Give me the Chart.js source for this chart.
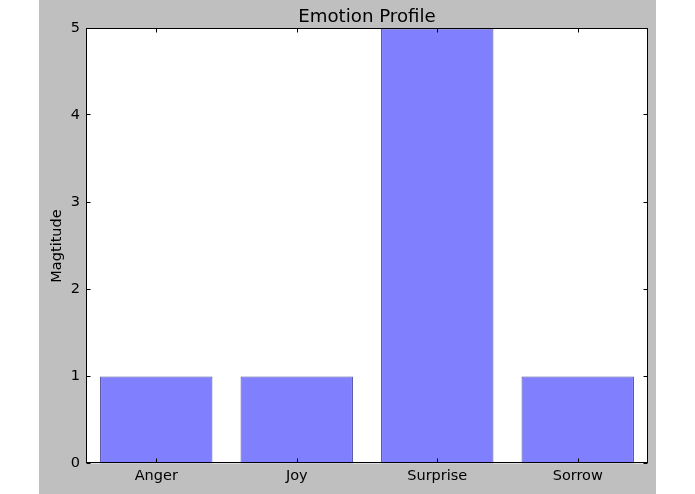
<!DOCTYPE html>
<html>
<head>
<meta charset="utf-8">
<script src="https://cdn.jsdelivr.net/npm/chart.js@4/dist/chart.umd.min.js"></script>
<style>
  html, body { margin: 0; padding: 0; background: #ffffff; }
  #chart { display: block; }
</style>
</head>
<body>
<canvas id="chart" width="695" height="494"></canvas>
<script>
// Emotion profile values
const emotions = ['Anger', 'Joy', 'Surprise', 'Sorrow'];
const magnitudes = [1, 1, 5, 1];
const yTicks = [0, 1, 2, 3, 4, 5];

const FONT = 'DejaVu Sans';

// grey figure background (matplotlib classic look)
const figureBg = {
  id: 'figureBg',
  beforeDraw(chart) {
    const { ctx, chartArea: a } = chart;
    ctx.save();
    ctx.fillStyle = '#bfbfbf';
    ctx.fillRect(39, 0, 617, chart.height);
    ctx.fillStyle = '#ffffff';
    ctx.fillRect(a.left, a.top, a.right - a.left, a.bottom - a.top);
    ctx.restore();
  }
};

// axes frame + inward ticks on all four sides
const frameTicks = {
  id: 'frameTicks',
  afterDatasetsDraw(chart) {
    const { ctx, chartArea: a, scales } = chart;
    const L = Math.floor(a.left) + 0.5, R = Math.floor(a.right) - 0.5;
    const T = Math.floor(a.top) + 0.5, B = Math.floor(a.bottom) - 0.5;
    const len = 4;
    ctx.save();
    ctx.strokeStyle = '#000';
    ctx.lineWidth = 1;
    ctx.beginPath();
    scales.y.ticks.forEach((t, i) => {
      const y = Math.round(scales.y.getPixelForTick(i)) - 0.5;
      ctx.moveTo(L, y); ctx.lineTo(L + len, y);
      ctx.moveTo(R, y); ctx.lineTo(R - len, y);
    });
    scales.x.ticks.forEach((t, i) => {
      const x = Math.round(scales.x.getPixelForTick(i)) + 0.5;
      ctx.moveTo(x, B); ctx.lineTo(x, B - len);
      ctx.moveTo(x, T); ctx.lineTo(x, T + len);
    });
    ctx.stroke();
    ctx.strokeRect(L, T, R - L, B - T);
    ctx.restore();
  }
};

new Chart(document.getElementById('chart'), {
  type: 'bar',
  data: {
    labels: emotions,
    datasets: [{
      data: magnitudes,
      backgroundColor: '#8080ff',
      borderColor: '#4c4ca0',
      borderWidth: 1,
      borderSkipped: false,
      barPercentage: 0.8,
      categoryPercentage: 1.0
    }]
  },
  options: {
    responsive: false,
    animation: false,
    devicePixelRatio: 1,
    layout: { padding: { left: 39, right: 47, top: 0, bottom: 0 } },
    plugins: {
      legend: { display: false },
      tooltip: { enabled: false },
      title: {
        display: true,
        fullSize: false,
        text: 'Emotion Profile',
        color: '#000',
        font: { family: FONT, size: 18.2, weight: 'normal' },
        padding: { top: 6.2, bottom: 0.46 }
      }
    },
    scales: {
      x: {
        grid: { display: false, drawTicks: false },
        border: { display: false },
        ticks: {
          color: '#000',
          font: { family: FONT, size: 14.5 },
          padding: 4,
          maxRotation: 0,
          autoSkip: false
        },
        afterFit: (s) => { s.height = 30.5; }
      },
      y: {
        min: 0,
        max: 5,
        grid: { display: false, drawTicks: false },
        border: { display: false },
        ticks: {
          color: '#000',
          font: { family: FONT, size: 14.5 },
          padding: 6,
          stepSize: 1,
          callback: (v) => yTicks.includes(v) ? String(v) : ''
        },
        title: {
          display: true,
          text: 'Magtitude',
          color: '#000',
          font: { family: FONT, size: 14.5 },
          padding: { top: 9.3, bottom: 0 }
        },
        afterFit: (s) => { s.width = 47; }
      }
    }
  },
  plugins: [figureBg, frameTicks]
});
</script>
</body>
</html>
